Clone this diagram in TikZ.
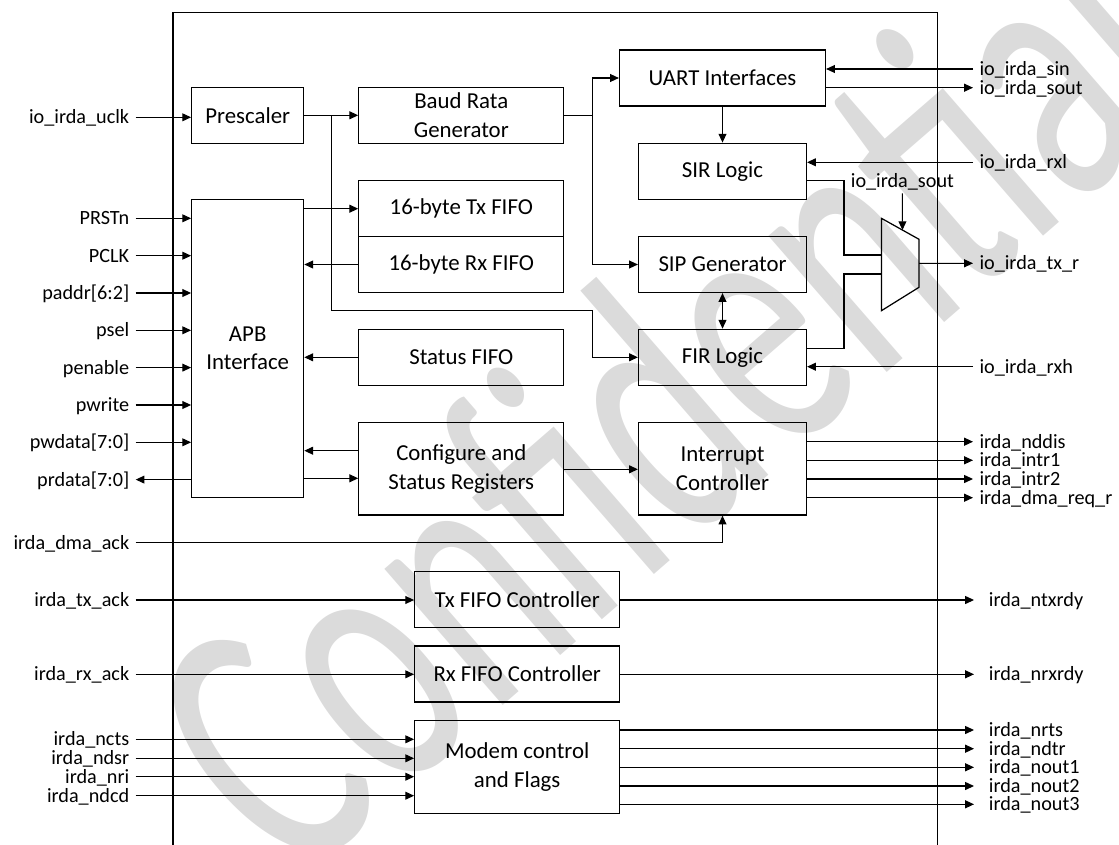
\documentclass[tikz,border=0pt]{standalone}
\usepackage{fontspec}
\setmainfont{Carlito}
\usetikzlibrary{arrows.meta,calc}

\tikzset{
  blk/.style={draw, line width=0.7pt, inner sep=0pt, align=center,
    font=\fontsize{13}{16.3}\selectfont},
  wide/.style={blk, minimum width=4.1cm, minimum height=1.12cm},
  mid/.style={blk, minimum width=3.36cm, minimum height=1.12cm},
  narrow/.style={blk, minimum width=2.24cm, minimum height=1.12cm},
  sig/.style={inner xsep=3.5pt, inner ysep=1pt, text height=9.7pt, text depth=2.2pt,
    font=\fontsize{11.5}{13}\selectfont},
  sigfar/.style={sig, inner xsep=8.3pt},
  wire/.style={line width=0.6pt},
  arr/.style={wire, -{Triangle[length=5pt,width=4.5pt]}},
  dbl/.style={wire, {Triangle[length=5pt,width=4.5pt]}-{Triangle[length=5pt,width=4.5pt]}},
}

\begin{document}
\begin{tikzpicture}[x=0.02cm, y=-0.02cm]
    \useasboundingbox (0,0) rectangle (1119,845);

    % watermark
    \node[text=black!14, rotate=41, xscale=0.65, font=\fontsize{215}{215}\selectfont] (wm) at (664,394) {Confidential};

    % chip outline, open at the bottom
    \coordinate (ol) at (172.9,845);
    \coordinate (or) at (937.5,845);
    \draw[line width=0.7pt] (ol) |- (937.5,12.7) -- (or);

    % blocks
    \node[narrow] (pre) at (247.7,115.3) {Prescaler};
    \node[wide] (baud) at (461.3,115.3) {Baud Rata\\Generator};
    \node[wide] (txf) at (461.3,208.7) {16-byte Tx FIFO};
    \node[wide] (rxf) at (461.3,264.5) {16-byte Rx FIFO};
    \node[narrow, minimum height=5.96cm] (apb) at (247.7,348.3) {APB\\Interface};
    \node[wide] (stat) at (461.3,357.3) {Status FIFO};
    \node[wide, minimum height=1.85cm] (cfg) at (461.3,468.8) {Configure and\\Status Registers};
    \node[blk, minimum width=4.12cm, minimum height=1.12cm] (uart) at (722.5,78) {UART Interfaces};
    \node[mid] (sir) at (722.5,171.2) {SIR Logic};
    \node[mid] (sip) at (722.5,264.5) {SIP Generator};
    \node[mid] (fir) at (722.5,357.3) {FIR Logic};
    \node[mid, minimum height=1.85cm] (intc) at (722.5,468.8) {Interrupt\\Controller};
    \node[wide] (txc) at (517.2,599.5) {Tx FIFO Controller};
    \node[wide] (rxc) at (517.2,674) {Rx FIFO Controller};
    \node[wide, minimum height=1.85cm] (mdm) at (517.2,767) {Modem control\\and Flags};

    % mux
    \coordinate (m1) at (881.4,218.3);
    \coordinate (m2) at (919,239.3);
    \coordinate (m3) at (919,287.3);
    \coordinate (m4) at (881.4,310.7);
    \draw[line width=0.7pt] (m1) -- (m2) -- (m3) -- (m4) -- cycle;
    \coordinate (mout) at ($(m2)!0.5!(m3)$);
    \coordinate (msel) at ($(m1)!0.56!(m2)$);

    % clock path
    \node[sig, anchor=east] (uclk) at (135.7,117.3) {io\_irda\_uclk};
    \draw[arr] (uclk.east) -- (pre.west |- uclk.east);
    \coordinate (j1) at (331.4,115.3);
    \draw[arr] (pre.east) -- (baud.west);
    \draw[arr] (j1) |- (592.1,310.7) |- (fir.west);
    \coordinate (j2) at (592.1,115.3);
    \draw[wire] (baud.east) -- (j2);
    \draw[arr] (j2) |- (uart.west);
    \draw[arr] (j2) |- (sip.west);

    % APB side
    \foreach \lbl/\y [count=\i] in {PRSTn/218.3, PCLK/255.7, paddr[6:2]/293, psel/330.3,
        penable/367.6, pwrite/405, pwdata[7:0]/442.3} {
      \node[sig, anchor=east] (in\i) at (135.7,\y) {\lbl};
      \draw[arr] (in\i.east) -- (apb.west |- in\i.east);
    }
    \node[sig, anchor=east] (prd) at (135.7,479.6) {prdata[7:0]};
    \draw[arr] (apb.west |- prd.east) -- (prd.east);
    \draw[arr] (apb.east |- txf.west) -- (txf.west);
    \draw[arr] (rxf.west) -- (apb.east |- rxf.west);
    \draw[arr] (stat.west) -- (apb.east |- stat.west);
    \draw[arr] (cfg.west |- 0,450.7) -- (apb.east |- 0,450.7);
    \draw[arr] (apb.east |- 0,478.3) -- (cfg.west |- 0,478.3);
    \draw[arr] (cfg.east |- 0,469.3) -- (intc.west |- 0,469.3);

    % serial side
    \node[sig, anchor=west] (sin) at (973,69) {io\_irda\_sin};
    \node[sig, anchor=west] (sout) at (973,87.7) {io\_irda\_sout};
    \draw[arr] (sin.west) -- (uart.east |- sin.west);
    \draw[arr] (uart.east |- sout.west) -- (sout.west);
    \draw[arr] (uart.south) -- (sir.north);
    \node[sig, anchor=west] (rxl) at (973,162.3) {io\_irda\_rxl};
    \draw[arr] (rxl.west) -- (sir.east |- rxl.west);
    \draw[dbl] (sip.south) -- (fir.north);
    \node[sig, anchor=west] (rxh) at (973,366.7) {io\_irda\_rxh};
    \draw[arr] (rxh.west) -- (fir.east |- rxh.west);
    \draw[wire] (sir.east |- 0,180.7) -| (844,255) -- (m1 |- 0,255);
    \draw[wire] (fir.east |- 0,348.3) -| (844,274) -- (m1 |- 0,274);
    \node[sig] (sout2) at (902.4,180.7) {io\_irda\_sout};
    \draw[arr] (sout2.south) -- (msel);
    \node[sig, anchor=west] (txr) at (973,263.3) {io\_irda\_tx\_r};
    \draw[arr] (mout) -- (txr.west);

    % interrupts
    \foreach \lbl/\y [count=\i] in {irda\_nddis/441.7, irda\_intr1/460.3,
        irda\_intr2/479, irda\_dma\_req\_r/497.7} {
      \node[sig, anchor=west] (irq\i) at (973,\y) {\lbl};
      \draw[arr] (intc.east |- irq\i.west) -- (irq\i.west);
    }
    \node[sig, anchor=east] (dack) at (135.7,542.7) {irda\_dma\_ack};
    \draw[arr] (dack.east) -| (intc.south);

    % fifo controllers
    \node[sig, anchor=east] (tack) at (135.7,600) {irda\_tx\_ack};
    \draw[arr] (tack.east) -- (txc.west |- tack.east);
    \node[sigfar, anchor=west] (trdy) at (974,600) {irda\_ntxrdy};
    \draw[arr] (txc.east |- trdy.west) -- (trdy.west);
    \node[sig, anchor=east] (rack) at (135.7,674.3) {irda\_rx\_ack};
    \draw[arr] (rack.east) -- (rxc.west |- rack.east);
    \node[sigfar, anchor=west] (rrdy) at (974,674.3) {irda\_nrxrdy};
    \draw[arr] (rxc.east |- rrdy.west) -- (rrdy.west);

    % modem
    \foreach \lbl/\y [count=\i] in {irda\_ncts/739.3, irda\_ndsr/758.3,
        irda\_nri/776.7, irda\_ndcd/795.7} {
      \node[sig, anchor=east] (min\i) at (135.7,\y) {\lbl};
      \draw[arr] (min\i.east) -- (mdm.west |- min\i.east);
    }
    \foreach \lbl/\y [count=\i] in {irda\_nrts/730, irda\_ndtr/748.7,
        irda\_nout1/767.3, irda\_nout2/786, irda\_nout3/804.3} {
      \node[sigfar, anchor=west] (mout\i) at (974,\y) {\lbl};
      \draw[arr] (mdm.east |- mout\i.west) -- (mout\i.west);
    }
\end{tikzpicture}
\end{document}
